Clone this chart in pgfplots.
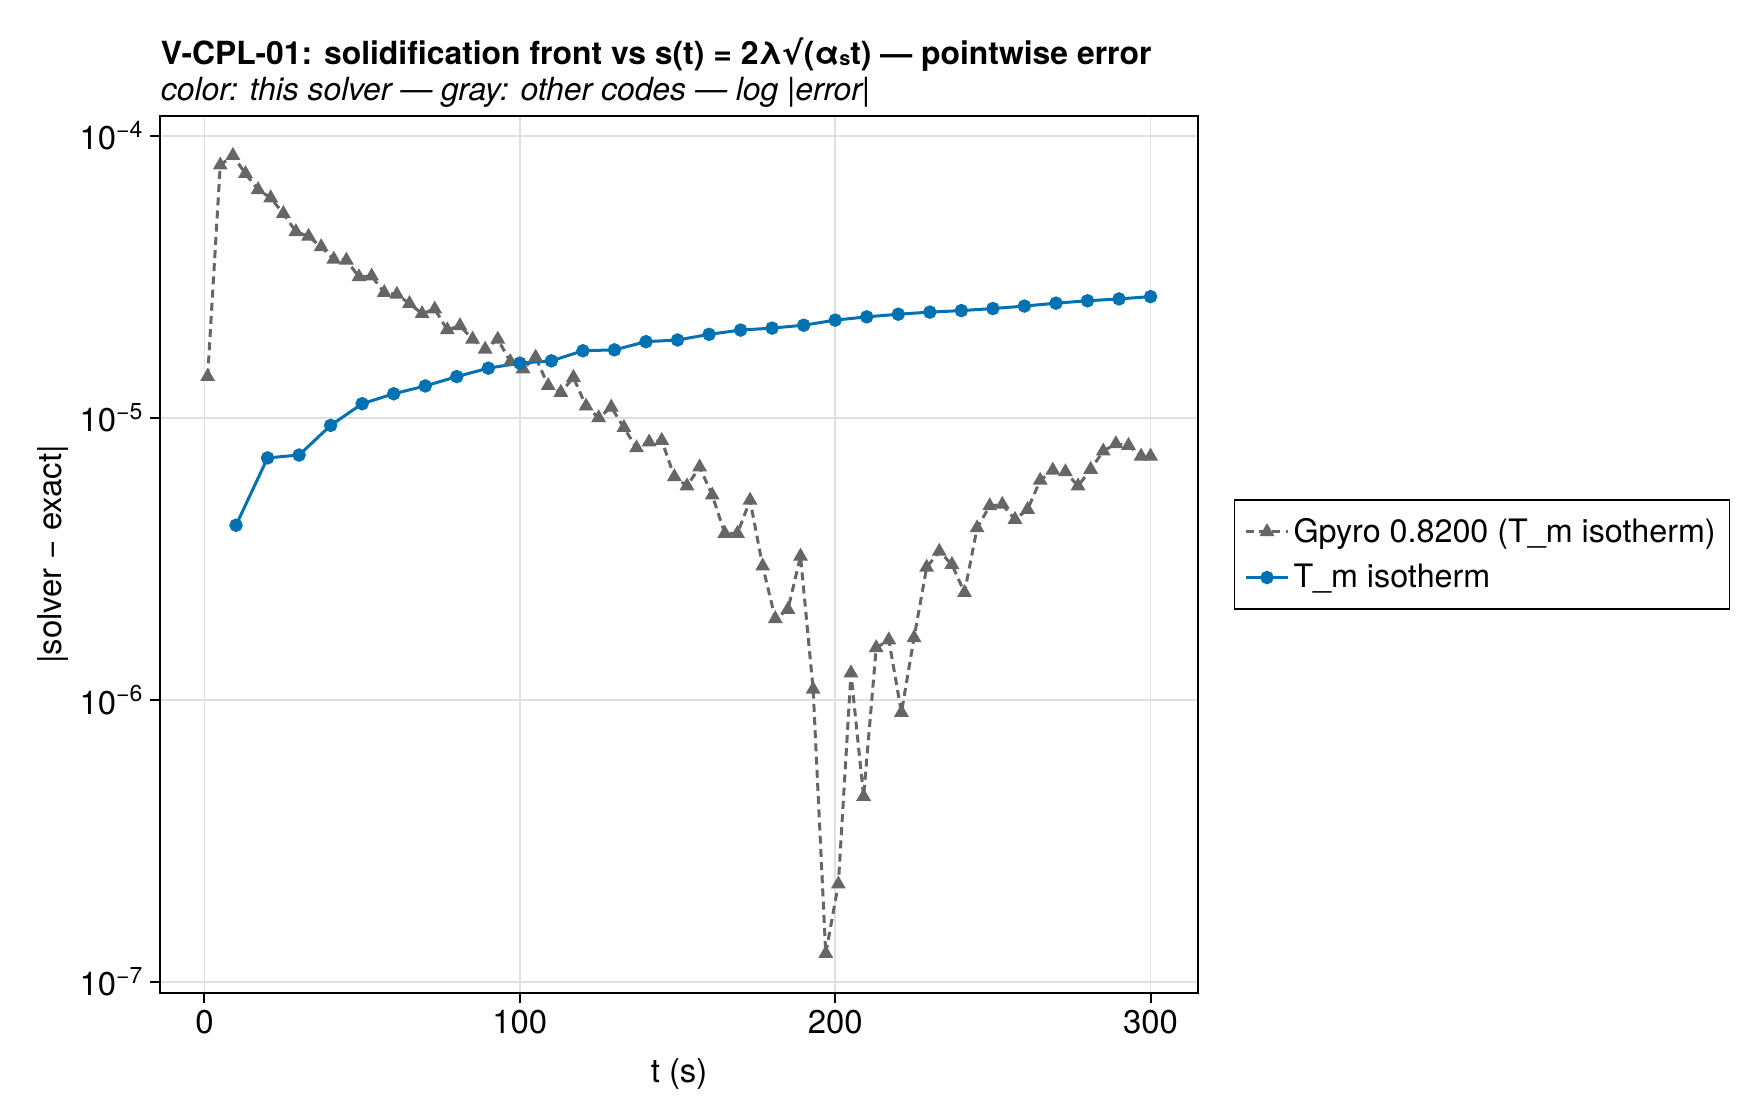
\documentclass[border=0pt]{standalone}
\usepackage{fontspec}
\setmainfont{TeX Gyre Heros}
\newfontfamily\dejavu{DejaVu Sans}
\usepackage{pgfplots}
\pgfplotsset{compat=1.18}
\definecolor{mblue}{RGB}{0,114,178}
\definecolor{mgray}{RGB}{102,102,102}

\pgfplotstableread{
t v
1 1.40e-5
5 7.87e-5
9 8.51e-5
13 7.34e-5
17 6.44e-5
21 6.02e-5
25 5.30e-5
29 4.57e-5
33 4.40e-5
37 4.04e-5
41 3.65e-5
45 3.62e-5
49 3.16e-5
53 3.18e-5
57 2.78e-5
61 2.74e-5
65 2.54e-5
69 2.34e-5
73 2.43e-5
77 2.05e-5
81 2.12e-5
85 1.90e-5
89 1.75e-5
93 1.90e-5
97 1.58e-5
101 1.49e-5
105 1.64e-5
109 1.30e-5
113 1.23e-5
117 1.39e-5
121 1.10e-5
125 1.00e-5
129 1.09e-5
133 9.23e-6
137 7.82e-6
141 8.20e-6
145 8.31e-6
149 6.18e-6
153 5.73e-6
157 6.69e-6
161 5.32e-6
165 3.89e-6
169 3.89e-6
173 5.10e-6
177 2.98e-6
181 1.94e-6
185 2.09e-6
189 3.23e-6
193 1.09e-6
197 1.26e-7
201 2.22e-7
205 1.245e-6
209 4.54e-7
213 1.53e-6
217 1.63e-6
221 9.02e-7
225 1.66e-6
229 2.95e-6
233 3.36e-6
237 3.02e-6
241 2.40e-6
245 4.07e-6
249 4.87e-6
253 4.93e-6
257 4.36e-6
261 4.73e-6
265 6.00e-6
269 6.52e-6
273 6.43e-6
277 5.73e-6
281 6.56e-6
285 7.62e-6
289 8.09e-6
293 7.98e-6
297 7.31e-6
300 7.31e-6
}\gpyro

\pgfplotstableread{
t v
10 4.16e-6
20 7.21e-6
30 7.38e-6
40 9.40e-6
50 1.122e-5
60 1.217e-5
70 1.297e-5
80 1.40e-5
90 1.50e-5
100 1.563e-5
110 1.592e-5
120 1.729e-5
130 1.742e-5
140 1.862e-5
150 1.888e-5
160 1.977e-5
170 2.047e-5
180 2.08e-5
190 2.13e-5
200 2.22e-5
210 2.28e-5
220 2.33e-5
230 2.37e-5
240 2.40e-5
250 2.44e-5
260 2.49e-5
270 2.55e-5
280 2.60e-5
290 2.64e-5
300 2.69e-5
}\tmiso

\begin{document}
\begin{tikzpicture}
\useasboundingbox (-80.25bp,-63.3bp) rectangle (799.75bp,496.7bp);
\begin{axis}[
  scale only axis, width=518.6bp, height=438.9bp,
  anchor=south west, at={(0,0)},
  xmin=-13.95, xmax=314.95,
  ymode=log, ymin=9.10e-8, ymax=1.179e-4,
  xtick={0,100,200,300}, xticklabels={0,100,200,300},
  ytick={1e-7,1e-6,1e-5,1e-4},
  yticklabels={10\textsuperscript{−7},10\textsuperscript{−6},10\textsuperscript{−5},10\textsuperscript{−4}},
  yminorticks=false, xminorticks=false,
  tick align=outside, major tick length=5bp,
  xtick pos=left, ytick pos=left,
  tick style={black, line width=1bp},
  grid=major, grid style={black!12, line width=0.9bp},
  axis line style={line width=1bp},
  ticklabel style={font=\fontsize{16.5}{19}\selectfont},
  xlabel={t (s)}, ylabel={|solver − exact|},
  label style={font=\fontsize{16.5}{19}\selectfont},
  xlabel style={at={(axis description cs:0.5,0)}, anchor=center, yshift=-40.3bp},
  ylabel style={at={(axis description cs:0,0.5)}, anchor=center, yshift=53.9bp},
  legend style={at={(1,0.5)}, anchor=west, xshift=18bp, draw=black, line width=0.8bp,
    inner xsep=5bp, inner ysep=7bp, font=\fontsize{16.2}{19}\selectfont,
    cells={anchor=west}, row sep=5.5bp},
  legend image code/.code={\draw[mark repeat=2,mark phase=2,#1] plot coordinates {(0bp,0bp) (10.5bp,0bp) (21bp,0bp)};},
]
\addplot[mgray, line width=1.5bp, dash pattern=on 4bp off 2.6bp, mark=triangle*, mark size=2.8bp,
  mark options={solid, fill=mgray, draw=none}] table[x=t, y=v] {\gpyro};
\addlegendentry{Gpyro 0.8200 (T\_m isotherm)}
\addplot[mblue, line width=1.5bp, mark=*, mark size=2.6bp,
  mark options={solid, fill=mblue, draw=none}] table[x=t, y=v] {\tmiso};
\addlegendentry{T\_m isotherm}
\end{axis}
\node[anchor=base west, inner sep=0, font=\fontsize{16}{19}\bfseries\selectfont]
  at (0bp,464.6bp) {V-CPL-01: solidification front vs s(t) = 2λ{\dejavu√}(α\raisebox{-0.1ex}{\fontsize{10}{10}\selectfont s}t) — pointwise error};
\node[anchor=base west, inner sep=0, font=\fontsize{16}{19}\itshape\selectfont]
  at (0bp,446.2bp) {color: this solver — gray: other codes — log |error|};
\end{tikzpicture}
\end{document}
